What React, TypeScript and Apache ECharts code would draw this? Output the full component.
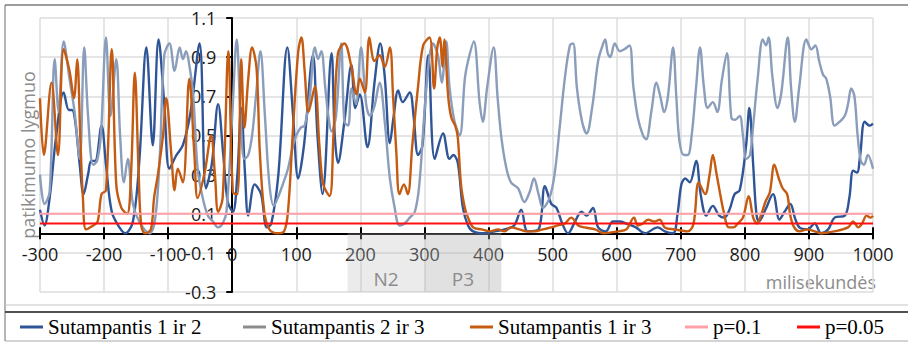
import React, { useEffect, useRef } from "react";
import * as echarts from "echarts";

// Sutampantis 1 ir 2 (ms, value)
const s12X = [-300,-293,-285,-275,-263,-255,-250,-245,-238,-232,-225,-220,-214,-204,-197,-188,-176,-167,-155,-145,-134,-124,-115,-106,-98,-87,-77,-65,-51,-41,-32,-22,-14,-7,1,8,14,20,25,35,45,54,61,72,86,95,103,112,126,133,141,155,160,165,175,186,192,199,211,222,231,238,246,252,259,266,277,283,290,297,306,316,329,339,345,352,360,368,376,394,410,425,440,451,461,478,488,498,506,515,524,535,545,553,563,571,583,594,605,615,630,644,664,675,688,695,701,707,714,724,731,740,750,760,768,776,784,792,802,807,813,818,822,832,844,854,862,871,878,885,898,909,919,930,940,956,963,969,975,980,987,995,1000];
const s12Y = [0.12,0.04,0.18,0.49,0.72,0.63,0.63,0.57,0.35,0.2,0.3,0.37,0.37,0.55,0.35,0.11,0.03,0.0,0.06,0.37,0.95,0.45,0.99,0.66,0.33,0.4,0.45,0.62,0.97,0.23,0.35,0.66,0.4,0.16,0.11,0.3,0.64,0.3,0.09,0.25,0.2,0.03,0.05,0.3,0.95,0.6,0.28,0.45,0.91,0.5,0.2,0.92,0.5,0.36,0.57,0.86,0.64,0.71,0.44,0.77,0.97,0.8,0.46,0.6,0.73,0.67,0.72,0.6,0.4,0.45,0.91,0.38,0.51,0.38,0.4,0.36,0.13,0.04,0.01,0.0,0.01,0.02,0.04,0.12,0.01,0.02,0.24,0.15,0.13,0.05,0.0,0.06,0.11,0.09,0.13,0.03,0.01,0.06,0.06,0.05,0.03,0.0,0.03,0.01,0.0,0.1,0.25,0.28,0.26,0.37,0.2,0.09,0.14,0.09,0.08,0.12,0.2,0.22,0.45,0.64,0.35,0.1,0.06,0.12,0.2,0.07,0.11,0.15,0.08,0.03,0.02,0.05,0.0,0.02,0.08,0.09,0.18,0.32,0.31,0.4,0.57,0.55,0.56];

// Sutampantis 2 ir 3
const s23X = [-300,-293,-285,-277,-271,-263,-254,-246,-238,-231,-225,-217,-211,-205,-197,-190,-181,-175,-169,-163,-155,-145,-129,-120,-113,-106,-98,-90,-82,-77,-72,-67,-61,-54,-46,-38,-30,-22,-15,-9,0,7,13,19,25,31,37,44,51,58,65,71,80,87,95,100,107,113,121,129,134,139,145,150,155,162,170,175,181,186,193,201,209,215,222,230,238,246,253,261,269,277,285,292,300,307,313,321,327,334,339,347,355,363,368,377,386,391,398,408,414,420,428,435,446,456,464,471,478,485,495,503,511,519,527,532,538,546,553,562,571,577,582,586,590,597,605,612,620,626,633,641,646,654,662,668,674,680,688,693,698,705,711,717,724,730,736,742,750,757,764,772,779,785,792,797,802,808,813,820,828,833,837,843,851,857,867,872,878,885,896,904,910,916,922,927,933,940,948,956,961,966,971,976,981,986,992,1000];
const s23Y = [0.3,0.15,0.21,0.89,0.62,0.98,0.79,0.62,0.38,0.95,0.6,0.35,0.37,0.5,1.0,0.6,0.89,0.5,0.26,0.38,0.15,0.06,0.0,0.08,0.4,0.91,0.97,0.83,0.95,0.89,0.93,0.86,0.71,0.33,0.18,0.09,0.06,0.03,0.05,0.11,0.6,0.99,0.6,0.38,0.4,0.5,0.7,0.93,0.6,0.25,0.14,0.18,0.26,0.33,0.45,0.5,0.54,0.55,0.7,0.95,0.89,0.93,0.75,0.6,0.52,0.6,0.97,0.57,0.55,0.74,0.66,0.95,0.66,0.6,0.65,0.77,0.57,0.28,0.14,0.04,0.05,0.08,0.11,0.25,0.62,0.88,0.97,0.91,0.77,0.98,0.75,0.57,0.5,0.79,0.88,0.98,0.67,0.57,0.75,0.95,0.7,0.49,0.33,0.26,0.23,0.16,0.21,0.28,0.2,0.13,0.18,0.3,0.54,0.79,0.96,0.97,0.74,0.57,0.51,0.65,0.88,0.95,0.99,0.92,0.9,0.97,0.93,0.94,0.96,0.75,0.59,0.5,0.48,0.62,0.77,0.7,0.62,0.7,0.95,0.7,0.47,0.4,0.4,0.5,0.75,0.95,0.75,0.64,0.67,0.62,0.78,0.92,0.59,0.58,0.6,0.5,0.38,0.4,0.55,0.79,0.99,0.96,1.0,0.8,0.64,0.72,1.0,0.75,0.57,0.75,0.99,0.94,0.96,0.88,0.81,0.79,0.7,0.55,0.57,0.6,0.66,0.74,0.7,0.5,0.37,0.35,0.4,0.33];

// Sutampantis 1 ir 3
const s13X = [-300,-294,-282,-272,-263,-254,-247,-242,-237,-233,-228,-217,-210,-204,-197,-188,-181,-173,-164,-158,-152,-146,-142,-136,-127,-122,-116,-108,-103,-95,-90,-85,-77,-67,-59,-54,-43,-33,-27,-22,-15,-6,1,8,14,19,25,31,38,43,50,58,71,81,87,95,103,108,113,119,129,136,142,152,158,165,175,186,194,199,207,214,222,230,238,246,251,256,261,268,274,281,290,298,308,315,320,324,328,331,337,342,348,352,357,363,368,376,389,402,415,425,435,448,459,472,485,498,508,519,529,540,550,566,580,602,615,627,633,641,649,659,667,675,690,711,720,728,738,745,750,756,761,767,775,782,789,797,806,813,819,826,832,839,846,853,859,866,871,877,885,898,909,919,940,961,969,977,983,990,996,1000];
const s13Y = [0.69,0.4,0.77,0.4,0.94,0.83,0.69,0.89,0.48,0.18,0.02,0.04,0.06,0.2,0.22,0.94,0.25,0.13,0.1,0.3,0.82,0.3,0.04,0.0,0.02,0.18,0.3,0.5,0.69,0.4,0.22,0.33,0.26,0.79,0.4,0.18,0.31,0.5,0.3,0.11,0.18,0.93,0.21,0.2,0.89,0.54,0.79,0.95,0.84,0.42,0.11,0.02,0.0,0.01,0.11,0.54,0.93,1.0,0.83,0.62,0.75,0.45,0.25,0.19,0.5,0.92,0.97,0.85,0.71,0.79,0.72,1.0,0.88,0.91,0.85,0.95,0.7,0.42,0.2,0.25,0.2,0.45,0.75,0.96,1.0,0.74,0.95,1.0,0.85,0.99,0.7,0.59,0.55,0.49,0.25,0.13,0.08,0.03,0.02,0.01,0.02,0.01,0.03,0.02,0.01,0.01,0.02,0.03,0.04,0.05,0.08,0.04,0.03,0.02,0.0,0.01,0.02,0.08,0.04,0.05,0.07,0.06,0.07,0.03,0.02,0.01,0.05,0.26,0.2,0.3,0.4,0.3,0.21,0.11,0.03,0.03,0.05,0.08,0.19,0.08,0.05,0.1,0.16,0.21,0.35,0.28,0.23,0.2,0.09,0.03,0.01,0.02,0.01,0.0,0.01,0.03,0.06,0.03,0.05,0.09,0.08,0.09];

const pLines = [0.1, 0.05];
const seriesNames = ["Sutampantis 1 ir 2", "Sutampantis 2 ir 3", "Sutampantis 1 ir 3", "p=0.1", "p=0.05"];
const xMin = -300, xMax = 1000, xStep = 100;
const yMin = -0.3, yMax = 1.1, yStep = 0.2;
const components = [
  { name: "N2", from: 180, to: 300 },
  { name: "P3", from: 300, to: 420 },
];

const zip = (xs: number[], ys: number[]) => xs.map((x, i) => [x, ys[i]]);

const W = 908, H = 342;
const GRID = { left: 40, right: 35, top: 18, bottom: 50 };

export default function App() {
  const ref = useRef<HTMLDivElement>(null);
  useEffect(() => {
    if (!ref.current) return;
    const chart = echarts.init(ref.current, undefined, { renderer: "svg" });
    const gridW = W - GRID.left - GRID.right;
    const gridH = H - GRID.top - GRID.bottom;
    // axes cross at the origin: shift them inwards from the grid edges
    const yAxisOffset = -((0 - xMin) / (xMax - xMin)) * gridW;
    const xAxisOffset = -((0 - yMin) / (yMax - yMin)) * gridH;
    const lineBase = { type: "line", showSymbol: false, symbol: "none", smooth: 0.35, xAxisIndex: 0, yAxisIndex: 0 };
    const legendBase = {
      icon: "rect", itemWidth: 23, itemHeight: 3, padding: 0, top: 316, selectedMode: false,
      textStyle: { fontFamily: "'Liberation Serif', 'DejaVu Serif', serif", fontSize: 21, color: "#000", lineHeight: 22 },
    };
    const sans = "'Open Sans', 'Noto Sans', sans-serif";
    chart.setOption({
      animation: false,
      grid: { ...GRID, containLabel: false, outerBoundsMode: "none" },
      xAxis: [
        {
          type: "value", min: xMin, max: xMax, interval: xStep, position: "bottom", offset: xAxisOffset,
          axisLine: { onZero: false, lineStyle: { color: "#000", width: 2 } },
          axisTick: { show: true, length: 6, lineStyle: { color: "#000", width: 2 } },
          axisLabel: { color: "#1a1a1a", fontSize: 18, fontFamily: sans, margin: 12, formatter: (v: number) => String(v) },
          splitLine: { show: true, lineStyle: { color: "#dcdcdc", width: 1.5 } },
        },
        {
          type: "value", min: xMin, max: xMax, interval: xStep, position: "bottom", offset: xAxisOffset,
          axisLine: { show: true, onZero: false, lineStyle: { color: "#000", width: 2 } },
          axisTick: { show: true, inside: true, length: 6, lineStyle: { color: "#000", width: 2 } },
          axisLabel: { show: false },
          splitLine: { show: false },
        },
      ],
      yAxis: {
        type: "value", min: yMin, max: yMax, interval: yStep, position: "left", offset: yAxisOffset,
        axisLine: { show: true, onZero: false, lineStyle: { color: "#000", width: 2 } },
        axisTick: { show: true, length: 6, lineStyle: { color: "#000", width: 2 } },
        axisLabel: { color: "#1a1a1a", fontSize: 18, fontFamily: sans, margin: 16, formatter: (v: number) => v.toFixed(1) },
        splitLine: { show: true, lineStyle: { color: "#dcdcdc", width: 1.5 } },
      },
      legend: [
        { ...legendBase, left: 20, data: [{ name: seriesNames[0] }] },
        { ...legendBase, left: 243, data: [{ name: seriesNames[1], itemStyle: { color: "#8c8c8c" } }] },
        { ...legendBase, left: 470, data: [{ name: seriesNames[2] }] },
        { ...legendBase, left: 685, data: [{ name: seriesNames[3] }] },
        { ...legendBase, left: 797, data: [{ name: seriesNames[4] }] },
      ],
      graphic: [
        { type: "line", shape: { x1: 5, y1: 5, x2: 908, y2: 5 }, style: { stroke: "#3a3a3a", lineWidth: 1 } },
        { type: "line", shape: { x1: 5, y1: 5, x2: 5, y2: 341 }, style: { stroke: "#6a6a6a", lineWidth: 1 } },
        { type: "line", shape: { x1: 5, y1: 305, x2: 908, y2: 305 }, style: { stroke: "#c4c4c4", lineWidth: 1 } },
        { type: "line", shape: { x1: 5, y1: 312, x2: 908, y2: 312 }, style: { stroke: "#505050", lineWidth: 2 } },
        { type: "line", shape: { x1: 5, y1: 341, x2: 908, y2: 341 }, style: { stroke: "#a8a8a8", lineWidth: 1 } },
        {
          type: "text", x: 28, y: 155, rotation: Math.PI / 2,
          style: { text: "patikimumo lygmuo", fill: "#8c8c8c", font: `18px ${sans}`, align: "center", verticalAlign: "middle" },
        },
        {
          type: "text", x: 876, y: 282,
          style: { text: "milisekundės", fill: "#8c8c8c", font: `18px ${sans}`, align: "right", verticalAlign: "middle" },
        },
      ],
      series: [
        {
          ...lineBase, name: seriesNames[0], color: "#2f5597", lineStyle: { color: "#2f5597", width: 2.4 },
          data: zip(s12X, s12Y),
          markArea: {
            silent: true,
            label: { show: true, position: "insideBottom", distance: 4, color: "#8c8c8c", fontSize: 19, fontFamily: sans },
            data: components.map((c, i) => [
              { name: c.name, xAxis: c.from, yAxis: 0, itemStyle: { color: i === 0 ? "rgba(190,190,190,0.3)" : "rgba(175,175,175,0.38)" } },
              { xAxis: c.to, yAxis: yMin },
            ]),
          },
        },
        { ...lineBase, name: seriesNames[1], color: "#8a9dba", lineStyle: { color: "#8a9dba", width: 2.4 }, data: zip(s23X, s23Y) },
        { ...lineBase, name: seriesNames[2], color: "#c55a11", lineStyle: { color: "#c55a11", width: 2.4 }, data: zip(s13X, s13Y) },
        { ...lineBase, smooth: false, name: seriesNames[3], color: "#ffa0a8", lineStyle: { color: "#ffa0a8", width: 2 }, data: [[xMin, pLines[0]], [xMax, pLines[0]]] },
        { ...lineBase, smooth: false, name: seriesNames[4], color: "#ff1010", lineStyle: { color: "#ff1010", width: 2 }, data: [[xMin, pLines[1]], [xMax, pLines[1]]] },
      ],
    });
    return () => chart.dispose();
  }, []);
  return <div ref={ref} style={{ position: "fixed", left: 0, top: 0, width: W, height: H, background: "#fff" }} />;
}
